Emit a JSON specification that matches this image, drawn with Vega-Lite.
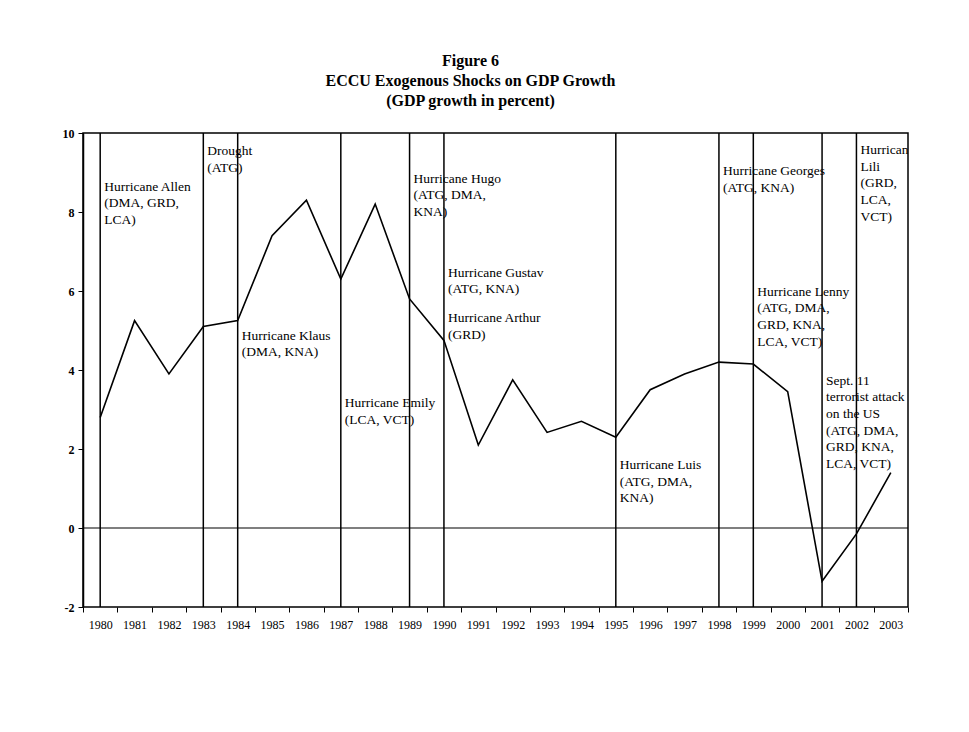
{
  "$schema": "https://vega.github.io/schema/vega-lite/v6.json",
  "width": 825,
  "height": 474,
  "autosize": {"type": "none"},
  "padding": {"left": 83, "top": 133, "right": 61, "bottom": 125},
  "background": "white",
  "config": {
    "view": {"stroke": "black", "strokeWidth": 1.5},
    "font": "Liberation Serif"
  },
  "title": {
    "text": ["Figure 6", "ECCU Exogenous Shocks on GDP Growth", "(GDP growth in percent)"],
    "font": "Liberation Serif",
    "fontSize": 16,
    "fontWeight": "bold",
    "color": "black",
    "lineHeight": 20,
    "anchor": "middle",
    "dx": -25,
    "offset": 18
  },
  "datasets": {
    "gdp": [
      {"year": 1980, "growth": 2.8},
      {"year": 1981, "growth": 5.25},
      {"year": 1982, "growth": 3.9},
      {"year": 1983, "growth": 5.1},
      {"year": 1984, "growth": 5.25},
      {"year": 1985, "growth": 7.4},
      {"year": 1986, "growth": 8.3},
      {"year": 1987, "growth": 6.3},
      {"year": 1988, "growth": 8.2},
      {"year": 1989, "growth": 5.8},
      {"year": 1990, "growth": 4.75},
      {"year": 1991, "growth": 2.1},
      {"year": 1992, "growth": 3.75},
      {"year": 1993, "growth": 2.42},
      {"year": 1994, "growth": 2.7},
      {"year": 1995, "growth": 2.3},
      {"year": 1996, "growth": 3.5},
      {"year": 1997, "growth": 3.9},
      {"year": 1998, "growth": 4.2},
      {"year": 1999, "growth": 4.15},
      {"year": 2000, "growth": 3.45},
      {"year": 2001, "growth": -1.35},
      {"year": 2002, "growth": -0.15},
      {"year": 2003, "growth": 1.4}
    ],
    "events": [
      {"year": 1980}, {"year": 1983}, {"year": 1984}, {"year": 1987},
      {"year": 1989}, {"year": 1990}, {"year": 1995}, {"year": 1998},
      {"year": 1999}, {"year": 2001}, {"year": 2002}
    ],
    "zero": [{"value": 0}],
    "notes": [
      {"year": 1980, "level": 8.82, "label": ["Hurricane Allen", "(DMA, GRD,", "LCA)"]},
      {"year": 1983, "level": 9.71, "label": ["Drought", "(ATG)"]},
      {"year": 1984, "level": 5.05, "label": ["Hurricane Klaus", "(DMA, KNA)"]},
      {"year": 1987, "level": 3.33, "label": ["Hurricane Emily", "(LCA, VCT)"]},
      {"year": 1989, "level": 9.02, "label": ["Hurricane Hugo", "(ATG, DMA,", "KNA)"]},
      {"year": 1990, "level": 6.64, "label": ["Hurricane Gustav", "(ATG, KNA)"]},
      {"year": 1990, "level": 5.49, "label": ["Hurricane Arthur", "(GRD)"]},
      {"year": 1995, "level": 1.77, "label": ["Hurricane Luis", "(ATG, DMA,", "KNA)"]},
      {"year": 1998, "level": 9.21, "label": ["Hurricane Georges", "(ATG, KNA)"]},
      {"year": 1999, "level": 6.16, "label": ["Hurricane Lenny", "(ATG, DMA,", "GRD, KNA,", "LCA, VCT)"]},
      {"year": 2001, "level": 3.91, "label": ["Sept. 11", "terrorist attack", "on the US", "(ATG, DMA,", "GRD, KNA,", "LCA, VCT)"]},
      {"year": 2002, "level": 9.75, "label": ["Hurricane", "Lili", "(GRD,", "LCA,", "VCT)"]}
    ]
  },
  "layer": [
    {
      "data": {"name": "events"},
      "mark": {"type": "rule", "color": "black", "strokeWidth": 1.5},
      "encoding": {
        "x": {
          "field": "year",
          "type": "quantitative",
          "scale": {"domain": [1979.5, 2003.5], "nice": false, "zero": false},
          "axis": {
            "orient": "bottom",
            "values": [1979.5, 1980.5, 1981.5, 1982.5, 1983.5, 1984.5, 1985.5, 1986.5, 1987.5, 1988.5, 1989.5, 1990.5, 1991.5, 1992.5, 1993.5, 1994.5, 1995.5, 1996.5, 1997.5, 1998.5, 1999.5, 2000.5, 2001.5, 2002.5, 2003.5],
            "labels": false,
            "ticks": true,
            "tickSize": 5,
            "tickColor": "black",
            "tickWidth": 1,
            "domain": false,
            "grid": false,
            "title": null
          }
        }
      }
    },
    {
      "data": {"name": "zero"},
      "mark": {"type": "rule", "color": "black", "strokeWidth": 1.2},
      "encoding": {
        "y": {"field": "value", "type": "quantitative"}
      }
    },
    {
      "data": {"name": "gdp"},
      "mark": {"type": "line", "color": "black", "strokeWidth": 1.6},
      "encoding": {
        "x": {
          "field": "year",
          "type": "quantitative",
          "axis": {
            "orient": "bottom",
            "values": [1980, 1981, 1982, 1983, 1984, 1985, 1986, 1987, 1988, 1989, 1990, 1991, 1992, 1993, 1994, 1995, 1996, 1997, 1998, 1999, 2000, 2001, 2002, 2003],
            "format": "d",
            "ticks": false,
            "domain": false,
            "grid": false,
            "labelPadding": 12,
            "labelFont": "Liberation Serif",
            "labelFontSize": 12,
            "labelColor": "black",
            "title": null
          }
        },
        "y": {
          "field": "growth",
          "type": "quantitative",
          "scale": {"domain": [-2, 10], "nice": false, "zero": false},
          "axis": {
            "values": [-2, 0, 2, 4, 6, 8, 10],
            "labelExpr": "datum.value < 0 ? '-' + abs(datum.value) : '' + datum.value",
            "tickSize": 5,
            "tickColor": "black",
            "domainColor": "black",
            "domainWidth": 1.5,
            "grid": false,
            "labelPadding": 4,
            "labelFont": "Liberation Serif",
            "labelFontSize": 12,
            "labelFontWeight": "bold",
            "labelColor": "black",
            "title": null
          }
        }
      }
    },
    {
      "data": {"name": "notes"},
      "mark": {
        "type": "text",
        "align": "left",
        "baseline": "top",
        "dx": 4,
        "font": "Liberation Serif",
        "fontSize": 13.5,
        "lineHeight": 16.7,
        "color": "black",
        "clip": true
      },
      "encoding": {
        "x": {"field": "year", "type": "quantitative", "axis": null},
        "y": {"field": "level", "type": "quantitative"},
        "text": {"field": "label"}
      }
    }
  ],
  "resolve": {"axis": {"x": "independent"}}
}
